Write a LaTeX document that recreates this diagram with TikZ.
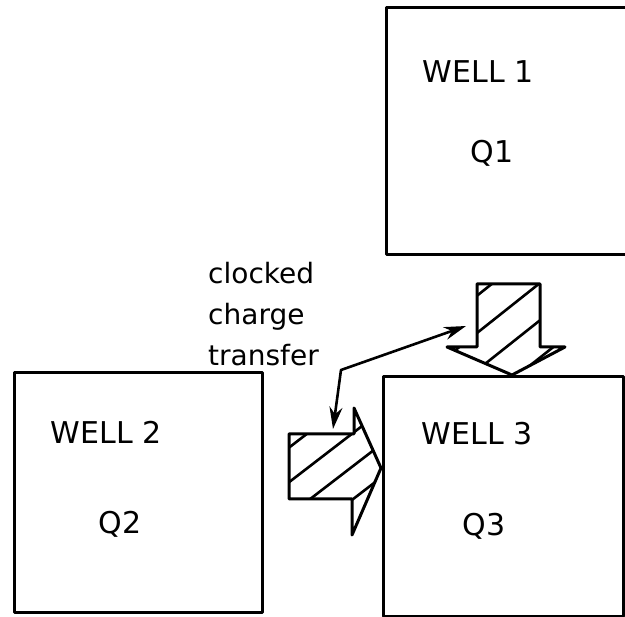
\documentclass[tikz,border=0pt]{standalone}
\usepackage{fontspec}
\setmainfont{DejaVu Sans}
\usetikzlibrary{arrows.meta}

\tikzset{
  well/.style={draw, line width=3pt, rectangle, inner sep=0pt},
  lbl/.style={font=\fontsize{30}{33}\selectfont, inner sep=0pt},
  hatch/.style={line width=2.6pt},
  link/.style={line width=2.6pt, {Stealth[length=22pt,width=13pt]}-{Stealth[length=22pt,width=13pt]}},
}

\begin{document}
\begin{tikzpicture}[x=1pt, y=-1pt, line join=round]
  \useasboundingbox (0,0) rectangle (625,617);

  % the three wells
  \node[well, minimum width=244pt, minimum height=247pt] (well1) at (508,131.5) {};
  \node[well, minimum width=248pt, minimum height=240pt] (well2) at (138,493) {};
  \node[well, minimum width=240pt, minimum height=240pt] (well3) at (503,497) {};

  \node[lbl] (name1) at (478,72) {WELL 1};
  \node[lbl] (q1) at (492,153) {Q1};
  \node[lbl] (name2) at (106,432) {WELL 2};
  \node[lbl] (q2) at (120,524) {Q2};
  \node[lbl] (name3) at (477,434) {WELL 3};
  \node[lbl] (q3) at (484,526) {Q3};

  % hatched arrow from well 1 into well 3
  \begin{scope}
    \clip (477,284) -- (540,284) -- (540,347) -- (565,347) -- (512,375)
      -- (447,347) -- (477,347) -- cycle;
    \foreach \x in {493,540,587,634}
      \draw[hatch] (\x-126,383) -- (\x+63,233);
  \end{scope}
  \draw[line width=3pt] (477,284) -- (540,284) -- (540,347) -- (565,347)
    -- (512,375) -- (447,347) -- (477,347) -- cycle;

  % hatched arrow from well 2 into well 3
  \begin{scope}
    \clip (289,434) -- (354,434) -- (354,408) -- (381,468) -- (352,535)
      -- (352,499) -- (289,499) -- cycle;
    \foreach \x in {308,353,396,439}
      \draw[hatch] (\x-130,533) -- (\x+52,393);
  \end{scope}
  \draw[line width=3pt] (289,434) -- (354,434) -- (354,408) -- (381,468)
    -- (352,535) -- (352,499) -- (289,499) -- cycle;

  % clocked charge transfer
  \node[lbl, font=\fontsize{28}{41}\selectfont, align=left, anchor=north west]
    (note) at (208,262) {clocked\\charge\\transfer};

  \coordinate (dnend) at (466,326);
  \coordinate (bend) at (341,370);
  \coordinate (rtend) at (333,429);
  \draw[link] (dnend) -- (bend) -- (rtend);
\end{tikzpicture}
\end{document}
